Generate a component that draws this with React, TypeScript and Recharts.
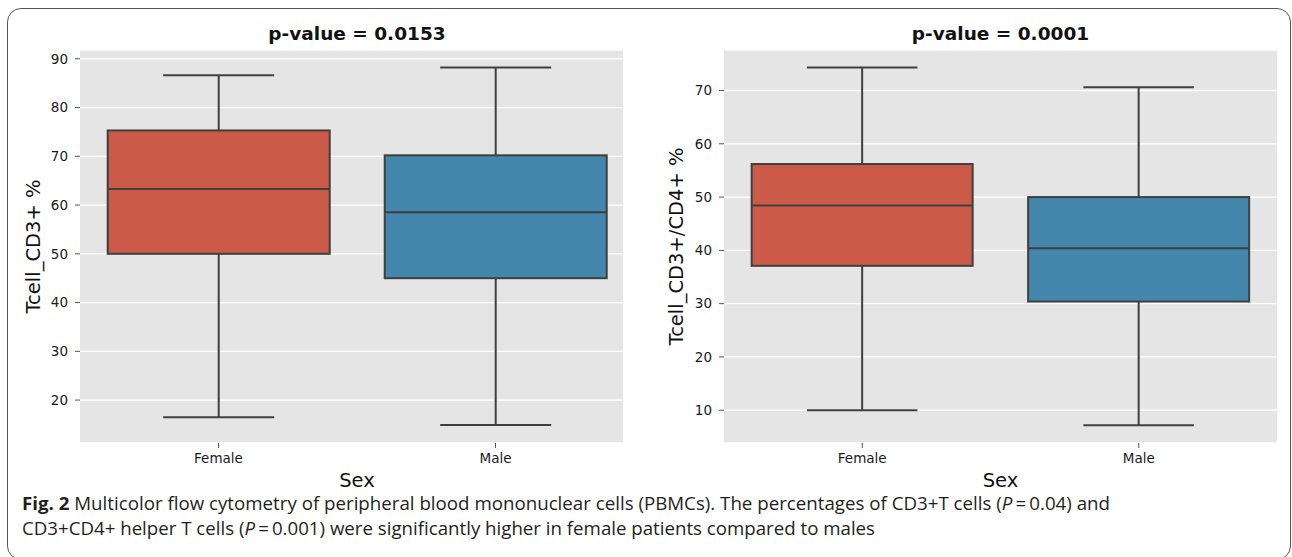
import React from 'react';
import { ComposedChart, Bar, XAxis, YAxis, CartesianGrid, Cell } from 'recharts';

// categories and the five-number summaries
const categories = ['Female', 'Male'];
const boxColors = ['#CC5A48', '#4586AC'];

const cd3Min = [16.5, 14.9];
const cd3Q1 = [50.0, 45.0];
const cd3Median = [63.3, 58.5];
const cd3Q3 = [75.3, 70.2];
const cd3Max = [86.6, 88.2];
const cd3Ticks = [20, 30, 40, 50, 60, 70, 80, 90];

const cd4Min = [10.0, 7.2];
const cd4Q1 = [37.1, 30.4];
const cd4Median = [48.4, 40.4];
const cd4Q3 = [56.2, 50.0];
const cd4Max = [74.3, 70.6];
const cd4Ticks = [10, 20, 30, 40, 50, 60, 70];

const EDGE = '#3F3F3F';
const FONT = '"DejaVu Sans", sans-serif';

const buildRows = (min: number[], q1: number[], med: number[], q3: number[], max: number[]) =>
  categories.map((sex, i) => ({
    sex,
    range: [min[i], max[i]],
    min: min[i],
    q1: q1[i],
    median: med[i],
    q3: q3[i],
    max: max[i],
  }));

const cd3Rows = buildRows(cd3Min, cd3Q1, cd3Median, cd3Q3, cd3Max);
const cd4Rows = buildRows(cd4Min, cd4Q1, cd4Median, cd4Q3, cd4Max);

// the bar spans min..max, so the other quantiles are placed along it
const BoxShape = (props: any) => {
  const { x, y, width, height, payload, fill } = props;
  if (!payload) return null;
  const lo = payload.min;
  const hi = payload.max;
  const pix = (v: number) => y + ((hi - v) / (hi - lo)) * height;
  const cx = x + width / 2;
  const capHalf = width / 4;
  const yMax = pix(payload.max);
  const yQ3 = pix(payload.q3);
  const yMed = pix(payload.median);
  const yQ1 = pix(payload.q1);
  const yMin = pix(payload.min);
  return (
    <g>
      <line x1={cx} x2={cx} y1={yMax} y2={yQ3} stroke={EDGE} strokeWidth={2} />
      <line x1={cx} x2={cx} y1={yQ1} y2={yMin} stroke={EDGE} strokeWidth={2} />
      <line x1={cx - capHalf} x2={cx + capHalf} y1={yMax} y2={yMax} stroke={EDGE} strokeWidth={2} />
      <line x1={cx - capHalf} x2={cx + capHalf} y1={yMin} y2={yMin} stroke={EDGE} strokeWidth={2} />
      <rect x={x} y={yQ3} width={width} height={yQ1 - yQ3} fill={fill} stroke={EDGE} strokeWidth={2} />
      <line x1={x} x2={x + width} y1={yMed} y2={yMed} stroke={EDGE} strokeWidth={2} />
    </g>
  );
};

type BoxChartProps = {
  rows: any[];
  domain: [number, number];
  ticks: number[];
  width: number;
  margin: { top: number; right: number; left: number; bottom: number };
};

function BoxChart({ rows, domain, ticks, width, margin }: BoxChartProps) {
  return (
    <ComposedChart width={width} height={433} data={rows} margin={margin} barCategoryGap="10%">
      <CartesianGrid vertical={false} stroke="#FFFFFF" strokeWidth={1.3} fill="#E5E5E5" />
      <XAxis
        dataKey="sex"
        height={30}
        axisLine={false}
        tickSize={5}
        tickMargin={5}
        tickLine={{ stroke: '#555' }}
        tick={{ fill: '#1a1a1a', fontSize: 13.5, fontFamily: FONT }}
      />
      <YAxis
        type="number"
        domain={domain}
        ticks={ticks}
        width={60}
        axisLine={false}
        tickSize={5}
        tickMargin={7}
        tickLine={{ stroke: '#555' }}
        tick={{ fill: '#1a1a1a', fontSize: 13.5, fontFamily: FONT }}
      />
      <Bar dataKey="range" isAnimationActive={false} shape={(p: any) => <BoxShape {...p} />}>
        {rows.map((r, i) => (
          <Cell key={r.sex} fill={boxColors[i]} />
        ))}
      </Bar>
    </ComposedChart>
  );
}

export default function App() {
  return (
    <div
      style={{
        position: 'absolute',
        left: 0,
        top: 0,
        width: 1292,
        height: 557,
        background: '#fff',
        overflow: 'hidden',
        fontFamily: FONT,
      }}
    >
      <div
        style={{
          position: 'absolute',
          left: 7,
          top: 8,
          width: 1284,
          height: 552,
          border: '1.5px solid #555',
          borderRadius: 14,
          boxSizing: 'border-box',
        }}
      />
      <div style={{ position: 'absolute', left: 0, top: 40 }}>
        <BoxChart
          rows={cd3Rows}
          domain={[11.2, 91.8]}
          ticks={cd3Ticks}
          width={640}
          margin={{ top: 10, right: 6, left: 20, bottom: 0 }}
        />
      </div>
      <div style={{ position: 'absolute', left: 623, top: 40, background: '#fff' }}>
        <BoxChart
          rows={cd4Rows}
          domain={[3.85, 77.6]}
          ticks={cd4Ticks}
          width={663}
          margin={{ top: 10, right: 9, left: 41, bottom: 0 }}
        />
      </div>
      <svg
        width={1292}
        height={557}
        style={{ position: 'absolute', left: 0, top: 0, pointerEvents: 'none' }}
      >
        <g fontFamily={FONT} fill="#111">
          <text x={357} y={40} textAnchor="middle" fontSize={18.5} fontWeight="bold">
            p-value = 0.0153
          </text>
          <text x={1000.5} y={40} textAnchor="middle" fontSize={18.5} fontWeight="bold">
            p-value = 0.0001
          </text>
          <text
            transform="translate(33,246.5) rotate(-90)"
            textAnchor="middle"
            dominantBaseline="central"
            fontSize={19.5}
          >
            Tcell_CD3+ %
          </text>
          <text
            transform="translate(676,246.5) rotate(-90)"
            textAnchor="middle"
            dominantBaseline="central"
            fontSize={19.5}
          >
            Tcell_CD3+/CD4+ %
          </text>
          <text x={357} y={487} textAnchor="middle" fontSize={19.5}>
            Sex
          </text>
          <text x={1000.5} y={487} textAnchor="middle" fontSize={19.5}>
            Sex
          </text>
        </g>
        <g fontFamily='"Open Sans", "Noto Sans", sans-serif' fontSize={18} fill="#231F20">
          <text x={22} y={510} textLength={1088} lengthAdjust="spacingAndGlyphs">
            <tspan fontWeight="bold">Fig. 2</tspan>
            {'  Multicolor flow cytometry of peripheral blood mononuclear cells (PBMCs). The percentages of CD3+T cells ('}
            <tspan fontStyle="italic">P</tspan>
            {'\u2009=\u20090.04) and'}
          </text>
          <text x={22} y={535} textLength={853} lengthAdjust="spacingAndGlyphs">
            {'CD3+CD4+ helper T cells ('}
            <tspan fontStyle="italic">P</tspan>
            {'\u2009=\u20090.001) were significantly higher in female patients compared to males'}
          </text>
        </g>
      </svg>
    </div>
  );
}
